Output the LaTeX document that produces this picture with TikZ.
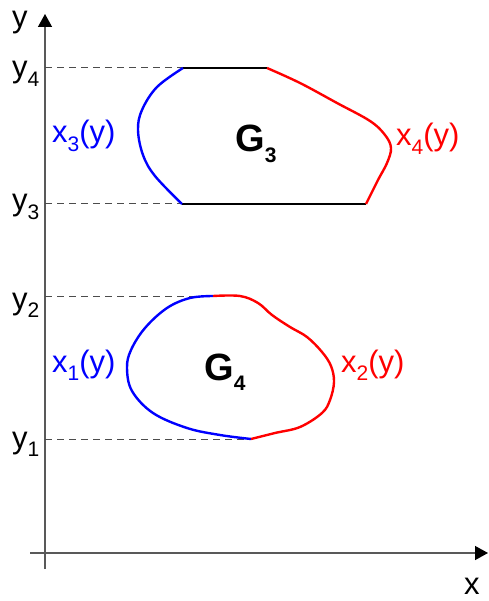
\documentclass[tikz,border=0pt]{standalone}
\usepackage{fontspec}
\setmainfont{Liberation Sans}
\usetikzlibrary{arrows.meta}

\newcommand{\idx}[1]{\raisebox{-0.28em}{\fontsize{21}{21}\selectfont #1}}
\tikzset{
  axis/.style={line width=1.4pt, black!65,
    -{Triangle[length=13pt,width=14pt,color=black]}},
  guide/.style={line width=1pt, black!70, dash pattern=on 7pt off 5pt},
  lbl/.style={inner sep=0pt, anchor=base west, font=\fontsize{31}{31}\selectfont},
  big/.style={inner sep=0pt, anchor=base west, font=\fontsize{38}{38}\selectfont\bfseries},
  lft/.style={line width=2.4pt, blue, line join=round},
  rgt/.style={line width=2.4pt, red, line join=round},
  flat/.style={line width=2.4pt, black}
}

\begin{document}
\begin{tikzpicture}[x=1pt, y=-1pt]
        \useasboundingbox (0,0) rectangle (488,601);
        % axes
        \coordinate (o) at (45,553);
        \draw[axis] (45,569) -- (45,14);
        \draw[axis] (30,553) -- (488,553);
        \node[lbl] (ylab) at (12,28) {y};
        \node[lbl] (xlab) at (464,594) {x};

        % G3
        \coordinate (a4) at (45,68);
        \coordinate (a3) at (45,204);
        \coordinate (p1) at (183,68);
        \coordinate (p2) at (267,68);
        \coordinate (p3) at (182,204);
        \coordinate (p4) at (366,204);
        \draw[guide] (a4) -- (p1);
        \draw[guide] (a3) -- (p3);
        \draw[flat] (p1) -- (p2);
        \draw[flat] (p3) -- (p4);
        \draw[lft] plot[smooth, tension=0.6] coordinates
          {(183,68) (157,87) (142,110) (138,130) (143,155) (155,176) (182,204)};
        \draw[rgt] plot[smooth, tension=0.6] coordinates
          {(267,68) (300,83) (337,103) (370,121) (385,135) (391,148) (387,163) (378,180) (366,204)};
        \node[big] (g3) at (235,152) {G\idx{3}};
        \node[lbl, blue] (x3) at (52,143) {x\idx{3}(y)};
        \node[lbl, red] (x4) at (396,146) {x\idx{4}(y)};
        \node[lbl] (y4) at (12,78) {y\idx{4}};
        \node[lbl] (y3) at (12,211) {y\idx{3}};

        % G4
        \coordinate (a2) at (45,296);
        \coordinate (a1) at (45,439);
        \coordinate (q1) at (213,296);
        \coordinate (q2) at (251,439);
        \draw[guide] (a2) -- (q1);
        \draw[guide] (a1) -- (q2);
        \draw[lft] plot[smooth, tension=0.6] coordinates
          {(213,296) (190,298) (167,308) (145,328) (131,350) (127,368) (132,391) (153,413) (187,428) (220,435) (251,439)};
        \draw[rgt] plot[smooth, tension=0.6] coordinates
          {(213,296) (240,296) (258,303) (272,315) (290,327) (307,337) (322,352) (331,366) (334,382) (330,400) (322,413) (300,427) (275,433) (251,439)};
        \node[big] (g4) at (204,380) {G\idx{4}};
        \node[lbl, blue] (x1) at (52,372) {x\idx{1}(y)};
        \node[lbl, red] (x2) at (341,372) {x\idx{2}(y)};
        \node[lbl] (y2) at (12,309) {y\idx{2}};
        \node[lbl] (y1) at (12,448) {y\idx{1}};
    \end{tikzpicture}
\end{document}
